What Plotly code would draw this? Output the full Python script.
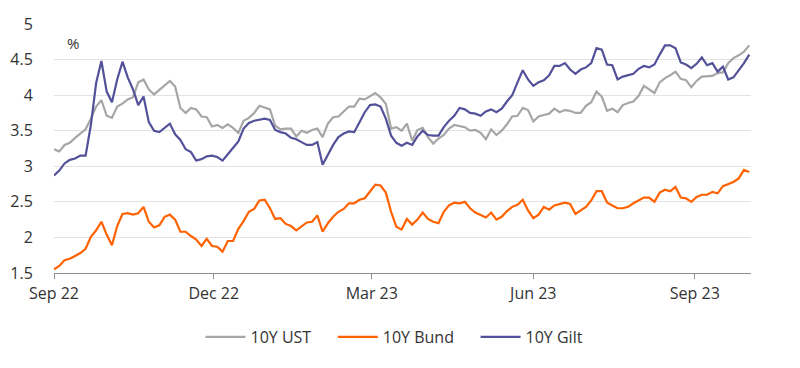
import pandas as pd
import plotly.graph_objects as go

start_date = "2022-09-01"
step = "3D"

gilt_10y = [
    2.87, 2.94, 3.04, 3.09, 3.11, 3.15, 3.15, 3.58, 4.17, 4.48,
    4.05, 3.90, 4.22, 4.47, 4.25, 4.08, 3.86, 3.98, 3.62, 3.50,
    3.48, 3.54, 3.60, 3.45, 3.37, 3.24, 3.20, 3.08, 3.10, 3.14,
    3.15, 3.13, 3.08, 3.17, 3.26, 3.35, 3.53, 3.61, 3.64, 3.66,
    3.67, 3.65, 3.51, 3.48, 3.46, 3.40, 3.38, 3.34, 3.30, 3.30,
    3.34, 3.02, 3.16, 3.30, 3.41, 3.46, 3.49, 3.48, 3.62, 3.76,
    3.86, 3.87, 3.84, 3.67, 3.43, 3.33, 3.29, 3.33, 3.30, 3.42,
    3.50, 3.44, 3.43, 3.43, 3.55, 3.64, 3.71, 3.82, 3.80, 3.75,
    3.74, 3.71, 3.77, 3.80, 3.76, 3.81, 3.91, 4.00, 4.18, 4.35,
    4.22, 4.13, 4.18, 4.21, 4.28, 4.41, 4.41, 4.45, 4.36, 4.30,
    4.36, 4.39, 4.45, 4.66, 4.64, 4.43, 4.42, 4.22, 4.26, 4.28,
    4.30, 4.37, 4.41, 4.39, 4.43, 4.57, 4.70, 4.70, 4.66, 4.46,
    4.43, 4.38, 4.44, 4.53, 4.42, 4.45, 4.33, 4.40, 4.22, 4.25,
    4.35, 4.45, 4.57,
]

ust_10y = [
    3.24, 3.21, 3.30, 3.33, 3.40, 3.46, 3.52, 3.67, 3.84, 3.93,
    3.71, 3.68, 3.84, 3.88, 3.94, 3.97, 4.18, 4.22, 4.08, 4.01,
    4.07, 4.14, 4.20, 4.12, 3.82, 3.75, 3.82, 3.80, 3.70, 3.69,
    3.56, 3.58, 3.54, 3.59, 3.54, 3.47, 3.64, 3.68, 3.75, 3.85,
    3.83, 3.80, 3.57, 3.52, 3.53, 3.53, 3.42, 3.50, 3.47, 3.51,
    3.53, 3.41, 3.60, 3.69, 3.70, 3.77, 3.84, 3.84, 3.95, 3.94,
    3.98, 4.03, 3.97, 3.88, 3.53, 3.55, 3.50, 3.60, 3.36, 3.51,
    3.54, 3.41, 3.32, 3.39, 3.44, 3.53, 3.58, 3.57, 3.55, 3.50,
    3.51, 3.47, 3.38, 3.52, 3.44, 3.50, 3.59, 3.70, 3.71, 3.82,
    3.79, 3.63, 3.70, 3.72, 3.74, 3.81, 3.76, 3.79, 3.78, 3.75,
    3.75, 3.85, 3.90, 4.05, 3.98, 3.78, 3.81, 3.76, 3.86, 3.89,
    3.91, 3.99, 4.13, 4.08, 4.03, 4.18, 4.24, 4.28, 4.33, 4.23,
    4.21, 4.11, 4.20, 4.26, 4.27, 4.27, 4.31, 4.32, 4.45, 4.52,
    4.56, 4.61, 4.70,
]

bund_10y = [
    1.55, 1.60, 1.68, 1.70, 1.74, 1.78, 1.84, 2.01, 2.10, 2.22,
    2.04, 1.89, 2.16, 2.33, 2.34, 2.32, 2.34, 2.43, 2.22, 2.14,
    2.17, 2.29, 2.32, 2.25, 2.08, 2.08, 2.02, 1.97, 1.88, 1.98,
    1.88, 1.87, 1.80, 1.95, 1.95, 2.12, 2.23, 2.36, 2.40, 2.52,
    2.53, 2.41, 2.26, 2.27, 2.19, 2.16, 2.10, 2.16, 2.21, 2.22,
    2.31, 2.08, 2.20, 2.29, 2.36, 2.40, 2.48, 2.48, 2.53, 2.55,
    2.65, 2.74, 2.73, 2.63, 2.36, 2.15, 2.11, 2.26, 2.18, 2.25,
    2.35, 2.26, 2.22, 2.20, 2.36, 2.45, 2.49, 2.48, 2.50, 2.41,
    2.35, 2.31, 2.28, 2.35, 2.25, 2.29, 2.37, 2.43, 2.46, 2.53,
    2.38, 2.27, 2.32, 2.43, 2.39, 2.45, 2.47, 2.49, 2.47, 2.33,
    2.38, 2.43, 2.52, 2.65, 2.65, 2.49, 2.45, 2.41, 2.41, 2.43,
    2.48, 2.52, 2.56, 2.56, 2.50, 2.63, 2.67, 2.65, 2.71, 2.56,
    2.55, 2.50, 2.57, 2.60, 2.60, 2.64, 2.62, 2.72, 2.75, 2.78,
    2.83, 2.95, 2.92,
]

dates = pd.date_range(start_date, periods=len(gilt_10y), freq=step)

tick_dates = ["2022-09-01", "2022-12-01", "2023-03-01", "2023-06-01", "2023-09-01"]
tick_labels = ["Sep 22", "Dec 22", "Mar 23", "Jun 23", "Sep 23"]

series = [
    ("10Y UST", ust_10y, "#a6a6a6"),
    ("10Y Bund", bund_10y, "#ff6200"),
    ("10Y Gilt", gilt_10y, "#525199"),
]

fig = go.Figure()
for name, vals, col in series:
    fig.add_trace(go.Scatter(
        x=dates, y=vals, name=name + "    ", mode="lines",
        line=dict(color=col, width=2.2),
    ))

# the page body adds an 8px offset, margins compensate for it
font_family = "Open Sans"
fig.update_layout(
    width=800, height=368,
    margin=dict(l=46, r=57, t=16, b=103, autoexpand=False),
    paper_bgcolor="white", plot_bgcolor="white",
    font=dict(family=font_family, size=13, color="#333333"),
    showlegend=True,
    legend=dict(orientation="h", x=0.5, xanchor="center", y=-0.257, yanchor="middle",
                font=dict(size=16, color="#333333"), traceorder="normal",
                itemwidth=40, tracegroupgap=0),
    annotations=[dict(text="%", xref="paper", yref="paper", x=0.016, y=0.925,
                      xanchor="left", yanchor="middle", showarrow=False,
                      font=dict(size=15, color="#333333"))],
)
fig.update_xaxes(
    type="date", automargin=False,
    range=["2022-09-01", "2023-10-03"],
    tickvals=tick_dates, ticktext=tick_labels,
    showgrid=False, showline=True, linecolor="#8c8c8c", linewidth=1,
    ticks="outside", ticklen=5, tickcolor="#8c8c8c",
    ticklabelstandoff=1,
    tickfont=dict(size=16, color="#333333"),
    zeroline=False,
)
fig.update_yaxes(
    automargin=False,
    range=[1.5, 5], dtick=0.5, tick0=1.5,
    showgrid=True, gridcolor="#e3e3e3", gridwidth=1,
    zeroline=False, showline=False,
    ticks="outside", ticklen=17, tickcolor="rgba(0,0,0,0)",
    tickfont=dict(size=16, color="#333333"),
)

fig.write_html("out.html")
